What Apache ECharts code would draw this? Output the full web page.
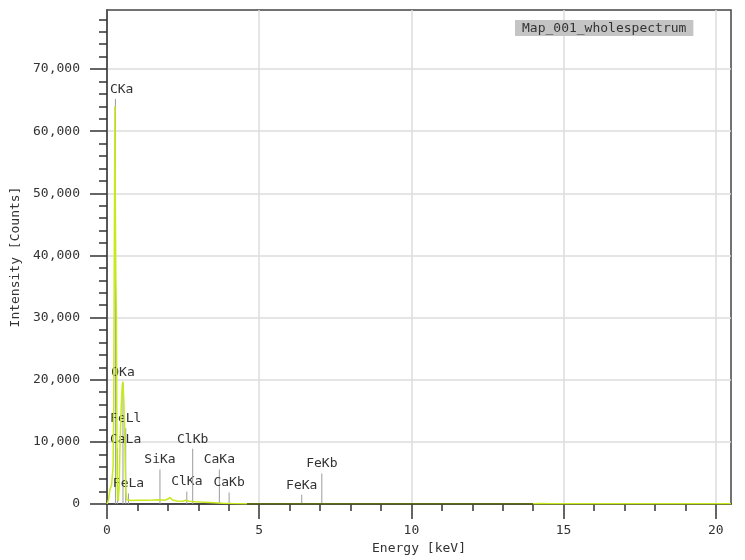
<!DOCTYPE html>
<html><head><meta charset="utf-8">
<script src="https://cdn.jsdelivr.net/npm/echarts@6/dist/echarts.min.js"></script>
<style>html,body{margin:0;padding:0;background:#fff}#c{width:745px;height:560px}</style>
</head><body><div id="c"></div>
<script>
// Spectrum (energy in keV, intensity in counts)
const energy = [0, 0.05, 0.10, 0.15, 0.20, 0.22, 0.24, 0.26, 0.275, 0.29, 0.31, 0.33, 0.35, 0.37, 0.40, 0.43, 0.47, 0.50, 0.52, 0.55, 0.58, 0.60, 0.62, 0.65, 0.70, 0.80, 1.0, 1.2, 1.5, 1.7, 1.9, 2.0, 2.07, 2.15, 2.3, 2.5, 2.58, 2.63, 2.70, 2.9, 3.2, 3.5, 3.8, 4.1, 4.5, 5.0, 6.0, 7.0, 8.0, 10.0, 12.0, 14.0, 14.3, 14.6, 15.0, 16.0, 18.0, 20.0, 20.5];
const counts = [0, 700, 2400, 3000, 6000, 15000, 40000, 64000, 47000, 36500, 30000, 6000, 900, 500, 3000, 10000, 16000, 19000, 19700, 17000, 12000, 6000, 2000, 700, 500, 550, 600, 620, 650, 680, 600, 800, 1050, 650, 500, 450, 600, 850, 450, 350, 280, 200, 120, 70, 50, 40, 35, 30, 30, 25, 25, 40, 90, 60, 60, 60, 60, 60, 60];

// Element marker lines
const peakNames = ['CKa', 'OKa', 'FeLl', 'CaLa', 'FeLa', 'SiKa', 'ClKa', 'ClKb', 'CaKa', 'CaKb', 'FeKa', 'FeKb'];
const peakEnergy = [0.277, 0.525, 0.615, 0.341, 0.705, 1.740, 2.622, 2.815, 3.691, 4.012, 6.398, 7.057];
const peakHeight = [65200, 19600, 12200, 8900, 1700, 5550, 2000, 8900, 5550, 1850, 1500, 4900];

// Axis ticks
const xLabelValues = [0, 5, 10, 15, 20];
const xMinorValues = [1, 2, 3, 4, 6, 7, 8, 9, 11, 12, 13, 14, 16, 17, 18, 19];
const yLabelValues = [0, 10000, 20000, 30000, 40000, 50000, 60000, 70000];
const yMinorValues = [2000, 4000, 6000, 8000, 12000, 14000, 16000, 18000, 22000, 24000, 26000, 28000, 32000, 34000, 36000, 38000, 42000, 44000, 46000, 48000, 52000, 54000, 56000, 58000, 62000, 64000, 66000, 68000, 72000, 74000, 76000, 78000];

const titleText = 'Map_001_wholespectrum';
const xName = 'Energy [keV]';
const yName = 'Intensity [Counts]';

const FONT = '"DejaVu Sans Mono", "Liberation Mono", monospace';
const TXT = '#333';
const chart = echarts.init(document.getElementById('c'));

const spectrum = energy.map((e, i) => [e, counts[i]]);
const markers = peakEnergy.map((e, i) => [e, peakHeight[i]]);

function renderMarker(params, api) {
  const e = api.value(0), h = api.value(1);
  const name = peakNames[params.dataIndex];
  const p0 = api.coord([e, 0]);
  const p1 = api.coord([e, h]);
  const left = params.coordSys.x;
  const w = name.length * 7.8;
  const cx = Math.max(p1[0], left + 3 + w / 2);
  return {
    type: 'group',
    children: [
      { type: 'line', shape: { x1: p1[0], y1: p1[1], x2: p0[0], y2: p0[1] }, style: { stroke: '#9c9c9c', lineWidth: 1 } },
      { type: 'text', style: { text: name, x: cx, y: p1[1] - 3, align: 'center', verticalAlign: 'bottom', font: '13px ' + FONT, fill: TXT } }
    ]
  };
}

const splitStyle = { color: '#dcdcdc', width: 1.5 };

chart.setOption({
  animation: false,
  backgroundColor: '#fff',
  title: {
    text: titleText, left: 515, top: 20, backgroundColor: '#c4c4c4', padding: [2, 7, 1, 7],
    textStyle: { fontFamily: FONT, fontSize: 13, fontWeight: 'normal', color: TXT }
  },
  grid: { left: 107, right: 14, top: 10, bottom: 56, show: true, borderColor: '#444', borderWidth: 1.5 },
  visualMap: {
    show: false, type: 'piecewise', dimension: 0, seriesIndex: 0,
    pieces: [
      { lt: 4.6, color: '#c6ea1c' },
      { gte: 4.6, lt: 14.0, color: '#5f7014' },
      { gte: 14.0, color: '#c6ea1c' }
    ]
  },
  xAxis: [
    {
      type: 'value', min: 0, max: 20.5, interval: 5, position: 'bottom',
      name: xName, nameLocation: 'middle', nameGap: 38,
      nameTextStyle: { fontFamily: FONT, fontSize: 13, color: TXT },
      axisLine: { show: true, onZero: false, lineStyle: { color: '#222', width: 1.5 } },
      axisTick: { show: true, customValues: xLabelValues, length: 15, lineStyle: { color: '#333', width: 1.5 } },
      axisLabel: { customValues: xLabelValues, margin: 20, fontFamily: FONT, fontSize: 13, color: TXT },
      splitLine: { show: true, lineStyle: splitStyle }
    },
    {
      type: 'value', min: 0, max: 20.5, position: 'bottom',
      axisLine: { show: false },
      axisTick: { show: true, customValues: xMinorValues, length: 7, lineStyle: { color: '#333', width: 1.5 } },
      axisLabel: { show: false },
      splitLine: { show: false }
    }
  ],
  yAxis: [
    {
      type: 'value', min: 0, max: 79500, interval: 10000, position: 'left',
      name: yName, nameLocation: 'middle', nameGap: 79,
      nameTextStyle: { fontFamily: FONT, fontSize: 13, color: TXT },
      axisLine: { show: true, onZero: false, lineStyle: { color: '#333', width: 1.5 } },
      axisTick: { show: true, customValues: yLabelValues, length: 17, lineStyle: { color: '#333', width: 1.5 } },
      axisLabel: {
        customValues: yLabelValues, margin: 27, fontFamily: FONT, fontSize: 13, color: TXT,
        formatter: v => v.toLocaleString('en-US')
      },
      splitLine: { show: true, lineStyle: splitStyle }
    },
    {
      type: 'value', min: 0, max: 79500, position: 'left',
      axisLine: { show: false },
      axisTick: { show: true, customValues: yMinorValues, length: 8, lineStyle: { color: '#333', width: 1.5 } },
      axisLabel: { show: false },
      splitLine: { show: false }
    }
  ],
  series: [
    {
      type: 'line', xAxisIndex: 0, yAxisIndex: 0, data: spectrum, showSymbol: false, z: 3,
      lineStyle: { width: 1.5 }
    },
    {
      type: 'custom', xAxisIndex: 0, yAxisIndex: 0, data: markers, renderItem: renderMarker, z: 2,
      encode: { x: 0, y: 1 }
    }
  ]
});
</script>
</body></html>
